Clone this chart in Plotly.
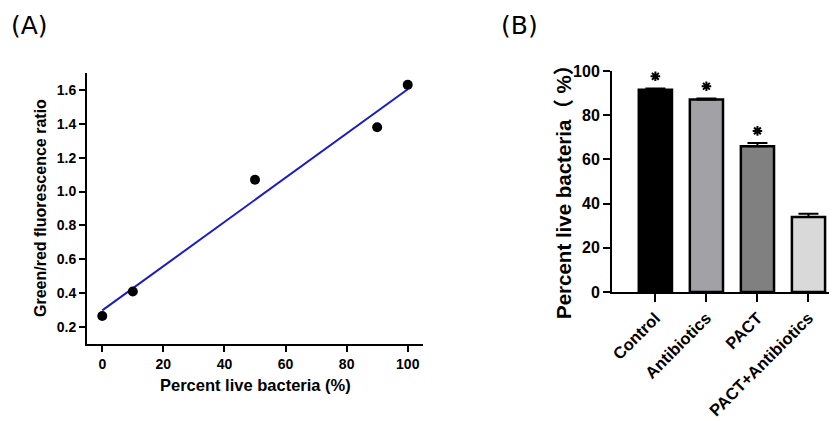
import numpy as np
import plotly.graph_objects as go

# Panel A data
pct_live = [0, 10, 50, 90, 100]
gr_ratio = [0.265, 0.41, 1.07, 1.38, 1.63]

# Panel B data
groups = ["Control", "Antibiotics", "PACT", "PACT+Antibiotics"]
live_pct = [91.5, 87.1, 65.9, 33.9]
live_err = [0.6, 0.5, 1.5, 1.5]
sig = [True, True, True, False]
bar_colors = ["#000000", "#a1a1a6", "#808080", "#d9d9d9"]

W, H = 837, 421
def xd(a, b):
    return [a / W, b / W]
def yd(top, bot):
    return [1 - bot / H, 1 - top / H]

fit = np.polyfit(pct_live, gr_ratio, 1)
fx = [min(pct_live), max(pct_live)]
fy = list(np.polyval(fit, fx))

font_b = "Liberation Sans, Arial, Noto Sans CJK SC, sans-serif"

fig = go.Figure()
fig.add_trace(go.Scatter(x=fx, y=fy, mode="lines", line=dict(color="#1a1acc", width=2),
                         xaxis="x", yaxis="y", showlegend=False))
fig.add_trace(go.Scatter(x=pct_live, y=gr_ratio, mode="markers",
                         marker=dict(color="black", size=10), xaxis="x", yaxis="y", showlegend=False))

fig.add_trace(go.Bar(x=groups, y=live_pct, width=0.65,
                     marker=dict(color=bar_colors, line=dict(color="black", width=2.5)),
                     error_y=dict(type="data", symmetric=False, array=live_err,
                                  arrayminus=[0] * len(live_err), color="black", thickness=2, width=10),
                     xaxis="x2", yaxis="y2", showlegend=False))
star_x = [g for g, s in zip(groups, sig) if s]
star_y = [v + e + 5.5 for v, e, s in zip(live_pct, live_err, sig) if s]
fig.add_trace(go.Scatter(x=star_x, y=star_y, mode="markers",
                         marker=dict(symbol="asterisk-open", size=8, color="black",
                                     line=dict(color="#222222", width=2)),
                         xaxis="x2", yaxis="y2", showlegend=False))

axis_common = dict(showline=True, linecolor="black", linewidth=2, ticks="outside",
                   tickcolor="black", tickwidth=2, showgrid=False, zeroline=False,
                   automargin=False)

fig.update_layout(
    width=W, height=H, margin=dict(l=0, r=0, t=0, b=0, autoexpand=False),
    plot_bgcolor="white", paper_bgcolor="white",
    font=dict(family=font_b, color="black"),
    xaxis=dict(domain=xd(79, 415), range=[-5, 105], tickvals=[0, 20, 40, 60, 80, 100],
               ticklen=6, tickfont=dict(size=14, family=font_b, weight="bold"),
               anchor="y", **axis_common),
    yaxis=dict(domain=yd(65, 336), range=[0.1, 1.7], tickvals=[0.2, 0.4, 0.6, 0.8, 1.0, 1.2, 1.4, 1.6],
               tickformat=".1f", ticklen=6, tickfont=dict(size=14, family=font_b, weight="bold"),
               anchor="x", **axis_common),
    xaxis2=dict(domain=xd(604, 826), range=[-0.85, 3.5], tickangle=-45, ticklen=8,
                tickfont=dict(size=16.5, family=font_b, weight="bold"),
                anchor="y2", **axis_common),
    yaxis2=dict(domain=yd(63, 284), range=[0, 100], tickvals=[0, 20, 40, 60, 80, 100],
                ticklen=7, tickfont=dict(size=16, family=font_b, weight="bold"),
                anchor="x2", **axis_common),
    bargap=0.35,
)

ann = [
    dict(text="(A)", x=1 / W, y=1 - 17 / H, xanchor="left", yanchor="middle",
         font=dict(size=25, family="DejaVu Sans, sans-serif")),
    dict(text="(B)", x=491 / W, y=1 - 17 / H, xanchor="left", yanchor="middle",
         font=dict(size=25, family="DejaVu Sans, sans-serif")),
    dict(text="Green/red fluorescence ratio", x=32 / W, y=1 - 200 / H, textangle=-90,
         xanchor="center", yanchor="middle", font=dict(size=16, family=font_b, weight="bold")),
    dict(text="Percent live bacteria (%)", x=247 / W, y=1 - 377 / H,
         xanchor="center", yanchor="middle", font=dict(size=16.5, family=font_b, weight="bold")),
    dict(text="Percent live bacteria（ %）", x=555 / W, y=1 - 179 / H, textangle=-90,
         xanchor="center", yanchor="middle", font=dict(size=20.5, family=font_b, weight="bold")),
]
for a in ann:
    a.update(xref="paper", yref="paper", showarrow=False)
fig.update_layout(annotations=ann)

fig.write_html("out.html")
